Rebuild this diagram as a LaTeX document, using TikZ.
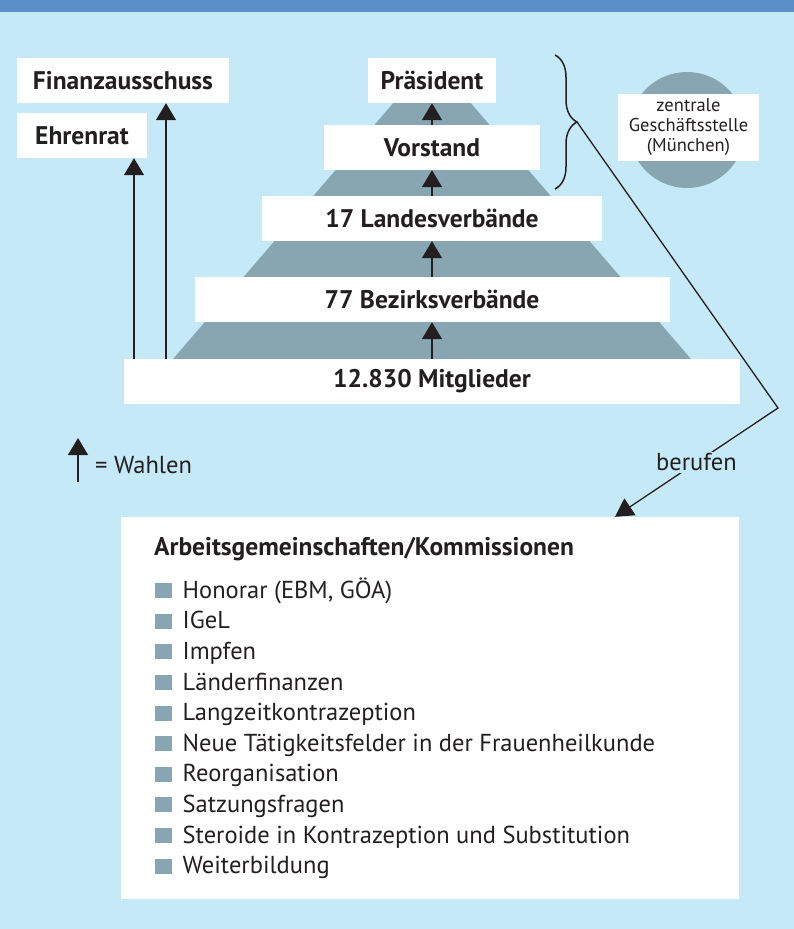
\documentclass[tikz,border=0pt]{standalone}
\usepackage{fontspec}
\setmainfont{PT Sans}
\usetikzlibrary{arrows.meta,decorations.pathreplacing,positioning}

\definecolor{hgblau}{HTML}{C6E9F8}
\definecolor{balken}{HTML}{5A8FCA}
\definecolor{pyrgrau}{HTML}{88A5B2}
\definecolor{schrift}{HTML}{231F20}

\begin{document}
\begin{tikzpicture}[x=1pt, y=-1pt,
  stufe/.style={fill=white, minimum height=45pt, inner sep=0pt, text=schrift,
    font=\fontsize{25.5}{28}\selectfont\bfseries},
  wahl/.style={-{Triangle[length=17pt,width=20pt]}, line width=1.6pt, draw=schrift},
  eintrag/.style={anchor=base west, inner sep=0pt, text=schrift,
    font=\fontsize{24.5}{28}\selectfont},
  quadrat/.style={fill=pyrgrau, minimum width=17pt, minimum height=15pt, inner sep=0pt}]

\useasboundingbox (0,0) rectangle (794,929);
\fill[hgblau] (0,0) rectangle (794,929);
\fill[balken] (0,0) rectangle (794,12);

% Pyramide und Geschaeftsstelle
\fill[pyrgrau] (432,58) -- (173,359) -- (691,359) -- cycle;
\fill[pyrgrau] (687,130) circle[radius=58pt];
\node[fill=white, minimum width=141pt, minimum height=67pt, inner sep=0pt, align=center,
  text=schrift, font=\fontsize{18.5}{20}\selectfont] (gst) at (688.5,127.5)
  {zentrale\\Geschäftsstelle\\(München)};

% Stufen
\node[stufe, minimum width=128pt] (praes) at (432,80.5) {Präsident};
\node[stufe, minimum width=216pt] (vorst) at (432,147.5) {Vorstand};
\node[stufe, minimum width=340pt] (landes) at (432,218.5) {17 Landesverbände};
\node[stufe, minimum width=475pt] (bezirk) at (432,299.5) {77 Bezirksverbände};
\node[stufe, minimum width=616pt] (mitgl) at (432,381.5) {12.830 Mitglieder};
\node[stufe, minimum width=212pt] (finanz) at (123,80.5) {Finanzausschuss};
\node[stufe, minimum width=130pt] (ehren) at (82,135.5) {Ehrenrat};

\foreach \von/\nach in {vorst/praes, landes/vorst, bezirk/landes, mitgl/bezirk}
\draw[wahl] (\von.north) -- (\nach.south);
\draw[wahl] (134,0 |- mitgl.north) -- (134,0 |- ehren.south);
\draw[wahl] (166,0 |- mitgl.north) -- (166,0 |- finanz.south);

% Legende
\coordinate (leg) at (78,482);
\draw[wahl] (leg) -- ++(0,-44);
\node[anchor=west, inner sep=0pt, text=schrift, font=\fontsize{24.5}{28}\selectfont] (wahlen) at (95,465) {= Wahlen};

% Arbeitsgemeinschaften
\node[fill=white, minimum width=618pt, minimum height=382pt, inner sep=0pt] (ag) at (430,708) {};
\node[anchor=west, inner sep=0pt, text=schrift, font=\fontsize{25.5}{28}\selectfont\bfseries] (agtitel) at (154,549) {Arbeitsgemeinschaften/Kommissionen};
\foreach \t [count=\i from 0] in {{Honorar (EBM, GÖA)}, IGeL, Impfen, Länderfinanzen,
  Langzeitkontrazeption, {Neue Tätigkeitsfelder in der Frauenheilkunde}, Reorganisation,
  Satzungsfragen, {Steroide in Kontrazeption und Substitution}, Weiterbildung}
{
\node[quadrat, anchor=south west] (q\i) at (155,598.3+30.6*\i) {};
\node[eintrag] (e\i) at (182.5,598.3+30.6*\i) {\t};
}

% berufen
\draw[decorate, decoration={brace, amplitude=22pt}, line width=1.5pt, schrift] (555,55) -- (555,189);
\coordinate (spitze) at (577,122);
\coordinate (knick) at (778,408);
\draw[line width=1.3pt, schrift, -{Triangle[length=18pt,width=20pt]}] (spitze) -- (knick)
  -- node[fill=hgblau, inner sep=2pt, text=schrift, font=\fontsize{24.5}{28}\selectfont] (ber) {berufen}
  (ag.north -| 615,0);
\end{tikzpicture}
\end{document}
